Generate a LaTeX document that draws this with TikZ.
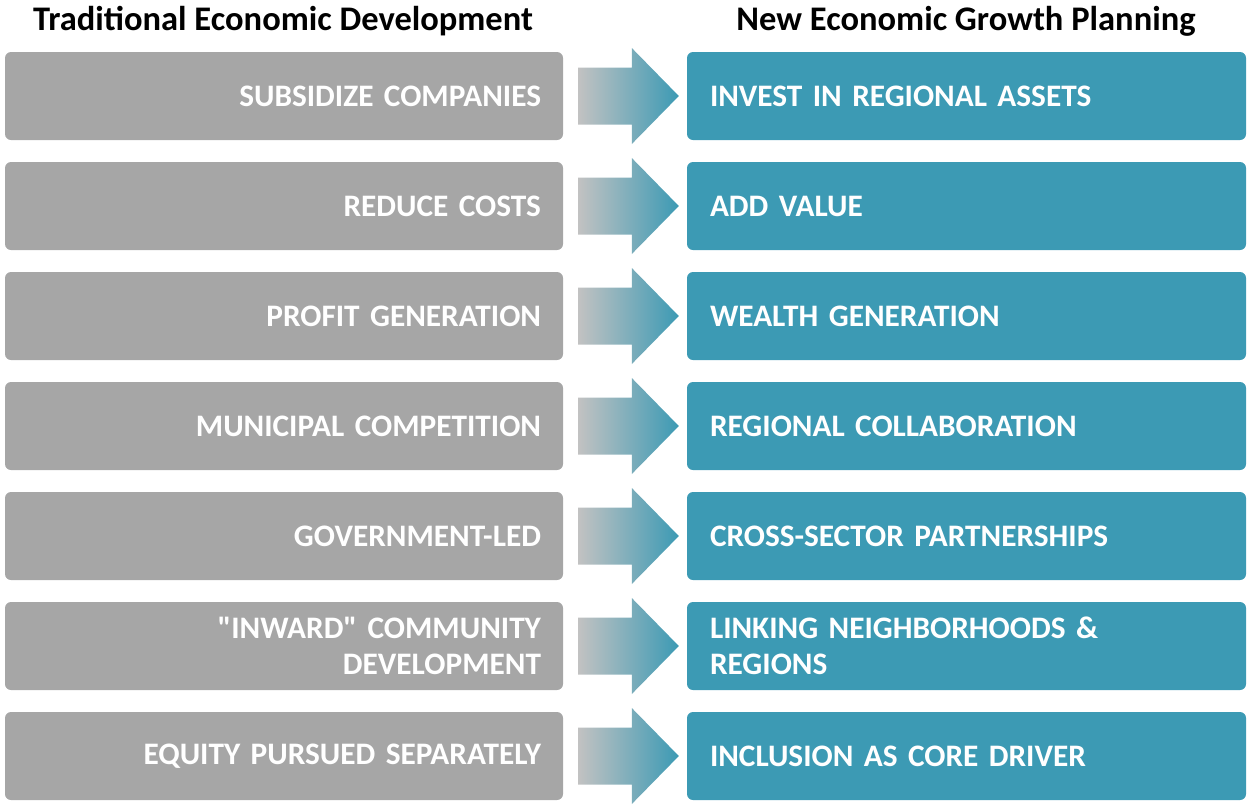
\documentclass[tikz,border=0pt]{standalone}
\usepackage{fontspec}
\setmainfont{Carlito}[Ligatures=TeXOff]
\usetikzlibrary{calc}
\definecolor{boxgray}{HTML}{A6A6A6}
\definecolor{boxteal}{HTML}{3C9AB4}
\definecolor{arrowgray}{HTML}{C2C2C2}
\begin{document}
\begin{tikzpicture}[x=1pt,y=-1pt,
  title/.style={font=\fontsize{34.5}{38}\selectfont\bfseries, anchor=base, inner sep=0pt},
  lbox/.style={fill=boxgray, rounded corners=6pt, text width=514pt, inner xsep=22pt, inner ysep=0pt,
    minimum height=88pt, align=right, text=white, font=\fontsize{31.3}{36}\selectfont\bfseries},
  rbox/.style={fill=boxteal, rounded corners=6pt, text width=513pt, inner xsep=23pt, inner ysep=0pt,
    minimum height=88pt, align=left, text=white, font=\fontsize{31.3}{36}\selectfont\bfseries},
  gradarrow/.style={left color=arrowgray, right color=boxteal}]
\useasboundingbox (0,0) rectangle (1247,804);
\node[title] (tl) at (283,30) {Traditional Economic Development};
\node[title] (tr) at (966,30) {New Economic Growth Planning};
\foreach \i/\lt/\rt in {
  1/{SUBSIDIZE COMPANIES}/{INVEST IN REGIONAL ASSETS},
  2/{REDUCE COSTS}/{ADD VALUE},
  3/{PROFIT GENERATION}/{WEALTH GENERATION},
  4/{MUNICIPAL COMPETITION}/{REGIONAL COLLABORATION},
  5/{GOVERNMENT-LED}/{CROSS-SECTOR PARTNERSHIPS},
  6/{"INWARD" COMMUNITY\\DEVELOPMENT}/{LINKING NEIGHBORHOODS \&\\REGIONS},
  7/{EQUITY PURSUED SEPARATELY}/{INCLUSION AS CORE DRIVER}}{
  \pgfmathsetmacro{\cy}{96+110*(\i-1)}
  \node[lbox] (l\i) at (284,\cy) {\lt};
  \node[rbox] (r\i) at (966.5,\cy) {\rt};
  \coordinate (s\i) at ($(l\i.east)+(15,0)$);
  \coordinate (t\i) at ($(r\i.west)+(-8,0)$);
  \shade[gradarrow] ($(s\i)+(0,-28.5)$) -- ($(t\i)+(-47,-28.5)$) -- ($(t\i)+(-47,-48)$) -- (t\i)
    -- ($(t\i)+(-47,48)$) -- ($(t\i)+(-47,28.5)$) -- ($(s\i)+(0,28.5)$) -- cycle;
}
\end{tikzpicture}
\end{document}
